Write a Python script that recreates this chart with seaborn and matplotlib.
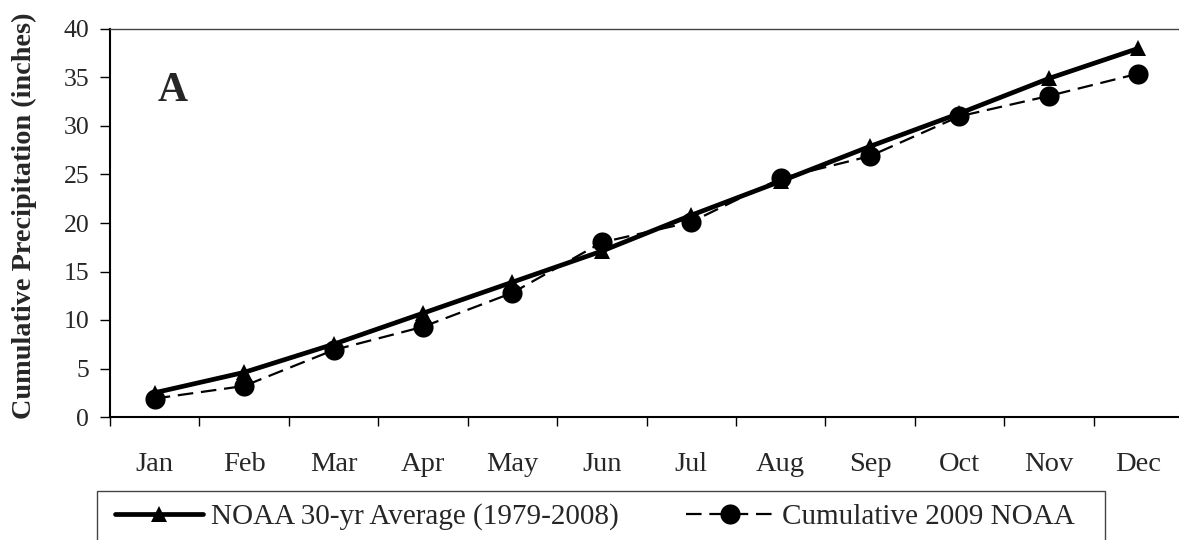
import matplotlib
matplotlib.use("Agg")
import matplotlib.pyplot as plt
import seaborn as sns
import pandas as pd
from matplotlib.patches import Rectangle
from matplotlib.ticker import MultipleLocator, FixedLocator

months = ["Jan", "Feb", "Mar", "Apr", "May", "Jun", "Jul", "Aug", "Sep", "Oct", "Nov", "Dec"]
noaa_avg = [2.5, 4.6, 7.5, 10.7, 13.9, 17.1, 20.8, 24.3, 27.9, 31.3, 34.9, 38.0]
cum_2009 = [1.9, 3.2, 6.9, 9.3, 12.8, 18.0, 20.1, 24.6, 26.9, 31.0, 33.1, 35.4]
label_avg = "NOAA 30-yr Average (1979-2008)"
label_2009 = "Cumulative 2009 NOAA"

sns.set_theme(style="white")
plt.rcParams['font.family'] = ['Liberation Serif', 'DejaVu Serif']

df = pd.DataFrame({"month": months, "avg": noaa_avg, "y2009": cum_2009})
df["pos"] = range(len(months))

fig = plt.figure(figsize=(11.79, 5.40), dpi=100)
ax = fig.add_axes([110/1179, 1-417/540, (1183-110)/1179, (417-29)/540])

sns.lineplot(data=df, x="pos", y="avg", ax=ax, color="black", lw=3.4,
             marker="^", markersize=12, markeredgewidth=0, label=label_avg)
sns.lineplot(data=df, x="pos", y="y2009", ax=ax, color="black", lw=1.6,
             dashes=False, linestyle=(0, (7, 3.5)), marker="o", markersize=14.5,
             markeredgewidth=0, label=label_2009)

ax.set_xlim(-0.5, 11.5)
ax.set_ylim(0, 40)
ax.yaxis.set_major_locator(MultipleLocator(5))
ax.set_xticks(range(12))
ax.set_xticklabels(months, fontsize=20.5)
ax.xaxis.set_minor_locator(FixedLocator([i - 0.5 for i in range(12)]))
ax.tick_params(axis="x", which="major", length=0, pad=25)
ax.tick_params(axis="x", which="minor", length=6.5, width=1, color="black", direction="out", bottom=True)
ax.tick_params(axis="y", which="major", length=7, width=1, color="black", direction="out",
               left=True, labelsize=18.5, pad=8)
ax.set_xlabel("")
ax.set_ylabel("Cumulative Precipitation (inches)", fontsize=20.3, fontweight="bold")
ax.yaxis.set_label_coords(-0.068, 0.518)

for s in ["left", "bottom"]:
    ax.spines[s].set_color("black")
    ax.spines[s].set_linewidth(1.5)
ax.spines["top"].set_color("#444444")
ax.spines["top"].set_linewidth(1.0)
ax.spines["right"].set_visible(False)

ax.text(0.044, 0.84, "A", transform=ax.transAxes, fontsize=30, fontweight="bold",
        ha="left", va="center")

handles, labels = ax.get_legend_handles_labels()
ax.get_legend().remove()
leg = fig.legend(handles, labels, loc="center left", bbox_to_anchor=(115/1179, 1-517/540),
                 ncol=2, frameon=False, fontsize=21, handlelength=3.0, handletextpad=0.3,
                 columnspacing=2.3, borderpad=0, borderaxespad=0)
fig.add_artist(Rectangle((97/1179, -0.05), (1105-97)/1179, 0.05 + (540-491)/540,
                         transform=fig.transFigure, fill=False, edgecolor="#444444", lw=1.0))

fig.savefig("out.png", dpi=100)
